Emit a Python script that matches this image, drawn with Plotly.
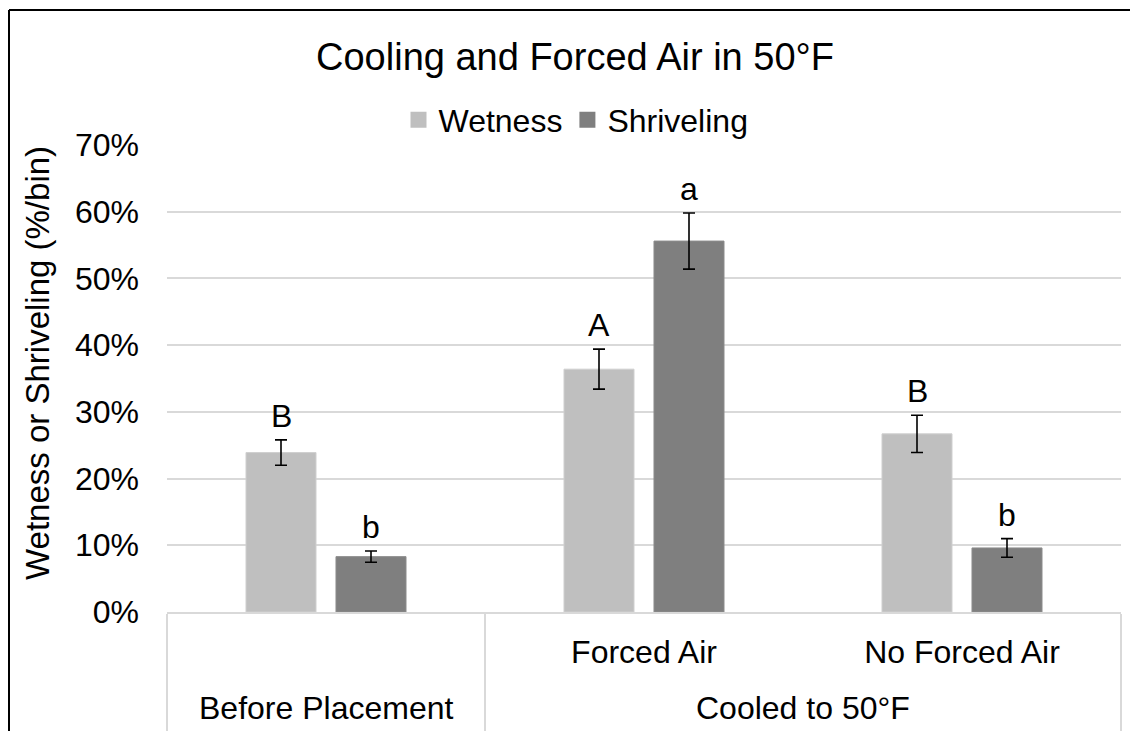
import plotly.graph_objects as go

# ---- data ----
outer = ["Before Placement", "Cooled to 50°F", "Cooled to 50°F"]
inner = ["", "Forced Air", "No Forced Air"]

wetness = [0.239, 0.364, 0.267]
wetness_err = [0.019, 0.030, 0.028]
wetness_letters = ["B", "A", "B"]

shrivel = [0.083, 0.556, 0.096]
shrivel_err = [0.0085, 0.042, 0.014]
shrivel_letters = ["b", "a", "b"]

y_ticks = [0, 0.1, 0.2, 0.3, 0.4, 0.5, 0.6, 0.7]
y_title = "Wetness or Shriveling (%/bin)"

# ---- style / layout constants (page has an 8px body margin) ----
FONT = "Arial, Liberation Sans, sans-serif"
W, H = 1130, 723
ML, MR, MT, MB = 159, 17, 137, 119
BARGAP = 0.434
BARGROUPGAP = 0.222
GRID = "#D9D9D9"
PLOT_H = H - MT - MB

idx = list(range(len(inner)))
x_range = [-0.5, len(inner) - 0.5]

# outer groups: centers and boundaries derived from the outer list
groups = []
for i, name in enumerate(outer):
    if groups and groups[-1][0] == name:
        groups[-1][2] = i
    else:
        groups.append([name, i, i])
outer_names = [g[0] for g in groups]
outer_centers = [(g[1] + g[2]) / 2 for g in groups]
boundaries = [groups[0][1] - 0.5] + [g[2] + 0.5 for g in groups]


def px_x(p):
    return (p - ML) / (W - ML - MR)


def px_y(p):
    return (H - MB - p) / PLOT_H


fig = go.Figure()
fig.add_trace(go.Bar(
    name="Wetness", x=idx, y=wetness, showlegend=False,
    marker=dict(color="#BFBFBF", line=dict(color="#CFCFCF", width=1)),
    error_y=dict(type="data", array=wetness_err, color="black", thickness=1.6, width=6),
))
fig.add_trace(go.Bar(
    name="Shriveling", x=idx, y=shrivel, showlegend=False,
    marker=dict(color="#7F7F7F", line=dict(color="#8C8C8C", width=1)),
    error_y=dict(type="data", array=shrivel_err, color="black", thickness=1.6, width=6),
))
# legend entries (larger square swatches)
for name, col in [("Wetness", "#BFBFBF"), ("Shriveling", "#7F7F7F")]:
    fig.add_trace(go.Scatter(
        name=name, x=[None], y=[None], mode="markers",
        marker=dict(symbol="square", size=16, color=col, line=dict(width=0)),
    ))

# significance letters above the error bars
slot = (1 - BARGAP) / 2
annotations = []
for k, (vals, errs, letters) in enumerate([(wetness, wetness_err, wetness_letters),
                                           (shrivel, shrivel_err, shrivel_letters)]):
    off = (k - 0.5) * slot
    for i, (v, e, t) in enumerate(zip(vals, errs, letters)):
        annotations.append(dict(
            x=i + off, y=v + e, xref="x", yref="y", text=t, showarrow=False,
            yanchor="bottom", xanchor="center", yshift=4,
            font=dict(family=FONT, size=32, color="black"),
        ))

# outer category labels (second level of the category axis)
for name, c in zip(outer_names, outer_centers):
    annotations.append(dict(
        x=c, y=-96 / PLOT_H, xref="x", yref="paper", text=name, showarrow=False,
        xanchor="center", yanchor="middle",
        font=dict(family=FONT, size=32, color="black"),
    ))

# y-axis title
annotations.append(dict(
    x=px_x(29), y=px_y(355), xref="paper", yref="paper", text=y_title, textangle=-90,
    showarrow=False, xanchor="center", yanchor="middle",
    font=dict(family=FONT, size=33, color="black"),
))

# chart-area border (left and top edges)
shapes = [
    dict(type="line", xref="paper", yref="paper", x0=px_x(1), x1=px_x(1), y0=px_y(2), y1=px_y(H + 5),
         line=dict(color="black", width=2)),
    dict(type="line", xref="paper", yref="paper", x0=px_x(1), x1=px_x(W + 5), y0=px_y(2), y1=px_y(2),
         line=dict(color="black", width=2)),
]

fig.update_layout(
    width=W, height=H,
    margin=dict(l=ML, r=MR, t=MT, b=MB, autoexpand=False),
    paper_bgcolor="white", plot_bgcolor="white",
    font=dict(family=FONT, size=32, color="black"),
    title=dict(text="Cooling and Forced Air in 50°F", x=567 / W, xanchor="center",
               y=1 - 49 / H, yanchor="middle", xref="container", yref="container",
               font=dict(size=38, family=FONT, color="black")),
    barmode="group", bargap=BARGAP, bargroupgap=BARGROUPGAP,
    legend=dict(orientation="h", xref="container", yref="container",
                x=568 / W, xanchor="center", y=1 - 112 / H, yanchor="middle",
                font=dict(size=32, family=FONT), itemwidth=30, traceorder="normal",
                itemsizing="trace"),
    annotations=annotations, shapes=shapes,
    yaxis=dict(range=[0, 0.7], tickvals=y_ticks, tickformat=".0%",
               showgrid=True, gridcolor=GRID, gridwidth=1.5, automargin=False,
               zeroline=False, showline=False, ticks="", ticklabelstandoff=27),
    xaxis=dict(range=x_range, tickvals=idx, ticktext=inner, showgrid=False, zeroline=False,
               showline=True, linecolor=GRID, linewidth=1.5, ticks="", automargin=False,
               ticklabelstandoff=11, tickfont=dict(size=32, family=FONT),
               minor=dict(tickmode="array", tickvals=boundaries, ticks="outside",
                          ticklen=MB + 5, tickwidth=1.5, tickcolor=GRID, showgrid=False)),
)

fig.write_html("out.html")
